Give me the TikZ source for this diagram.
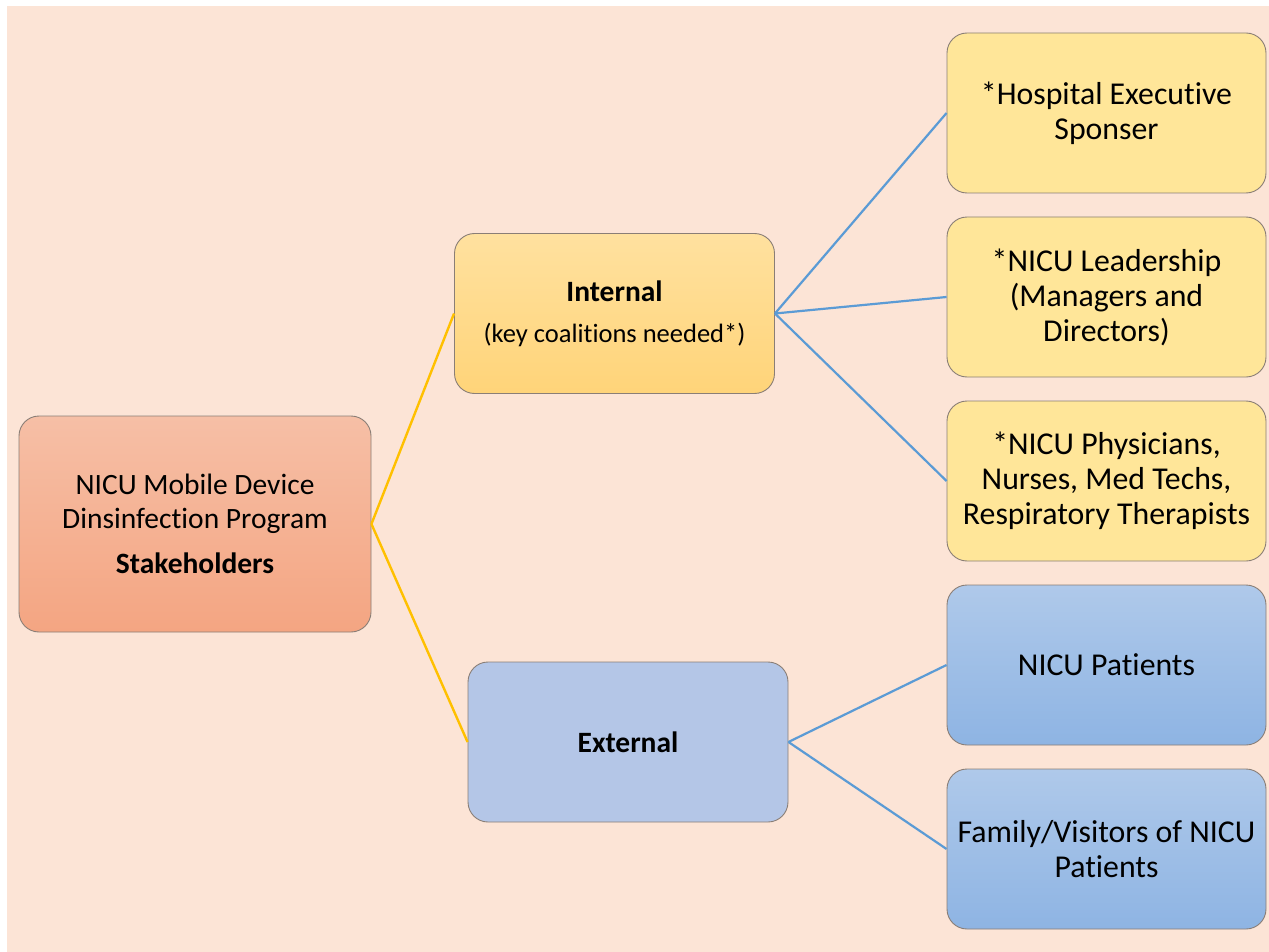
\documentclass[tikz,border=0pt]{standalone}
\usepackage{fontspec}
\setmainfont{Carlito}[Ligatures=NoCommon]
\usetikzlibrary{positioning}

\definecolor{peach}{HTML}{FCE4D6}
\definecolor{edgegray}{HTML}{8A7E76}
\definecolor{salmontop}{HTML}{F6BFA6}
\definecolor{salmonbot}{HTML}{F4A582}
\definecolor{goldtop}{HTML}{FFE19F}
\definecolor{goldbot}{HTML}{FFD479}
\definecolor{paleyellow}{HTML}{FFE699}
\definecolor{paleblue}{HTML}{B4C6E7}
\definecolor{bluetop}{HTML}{AFC9EA}
\definecolor{bluebot}{HTML}{8EB4E3}
\definecolor{linkgold}{HTML}{FFC000}
\definecolor{linkblue}{HTML}{5B9BD5}

\begin{document}
\begin{tikzpicture}[%
    x=1pt, y=-1pt,
    node distance=184pt,
    on grid,
    box/.style={draw=edgegray, line width=0.9pt, rounded corners=20pt,
        align=center, inner sep=0pt, font=\fontsize{29.5}{34}\selectfont},
    rootbox/.style={box, minimum width=352pt, minimum height=216pt,
        top color=salmontop, bottom color=salmonbot},
    midbox/.style={box, minimum width=320pt, minimum height=160pt},
    leafbox/.style={box, minimum width=319pt, minimum height=160pt,
        font=\fontsize{31.8}{35}\selectfont},
    goldlink/.style={draw=linkgold, line width=2.4pt},
    bluelink/.style={draw=linkblue, line width=2.2pt}
    ]

    \useasboundingbox (0,0) rectangle (1269,952);
    \fill[peach] (7,6) rectangle (1269,952);

    \node[rootbox] (root) at (195,524)
        {NICU Mobile Device\\Dinsinfection Program\\[11pt]\textbf{Stakeholders}};
    \node[midbox, top color=goldtop, bottom color=goldbot] (internal) at (614.5,313.5)
        {\textbf{Internal}\\[7pt]{\fontsize{26.5}{30}\selectfont(key coalitions needed*)}};
    \node[midbox, fill=paleblue] (external) at (628,742) {\textbf{External}};

    \node[leafbox, fill=paleyellow] (sponsor) at (1106.5,113)
        {*Hospital Executive\\Sponser};
    \node[leafbox, fill=paleyellow] (leaders) [below of=sponsor]
        {*NICU Leadership\\(Managers and\\Directors)};
    \node[leafbox, fill=paleyellow] (staff) [below of=leaders]
        {*NICU Physicians,\\Nurses, Med Techs,\\Respiratory Therapists};
    \node[leafbox, top color=bluetop, bottom color=bluebot] (patients) [below of=staff]
        {NICU Patients};
    \node[leafbox, top color=bluetop, bottom color=bluebot] (family) [below of=patients]
        {Family/Visitors of NICU\\Patients};

    \path[goldlink] (root.east) -- (internal.west);
    \path[goldlink] (root.east) -- (external.west);
    \path[bluelink] (internal.east) -- (sponsor.west);
    \path[bluelink] (internal.east) -- (leaders.west);
    \path[bluelink] (internal.east) -- (staff.west);
    \path[bluelink] (external.east) -- (patients.west);
    \path[bluelink] (external.east) -- (family.west);

    \end{tikzpicture}
\end{document}
